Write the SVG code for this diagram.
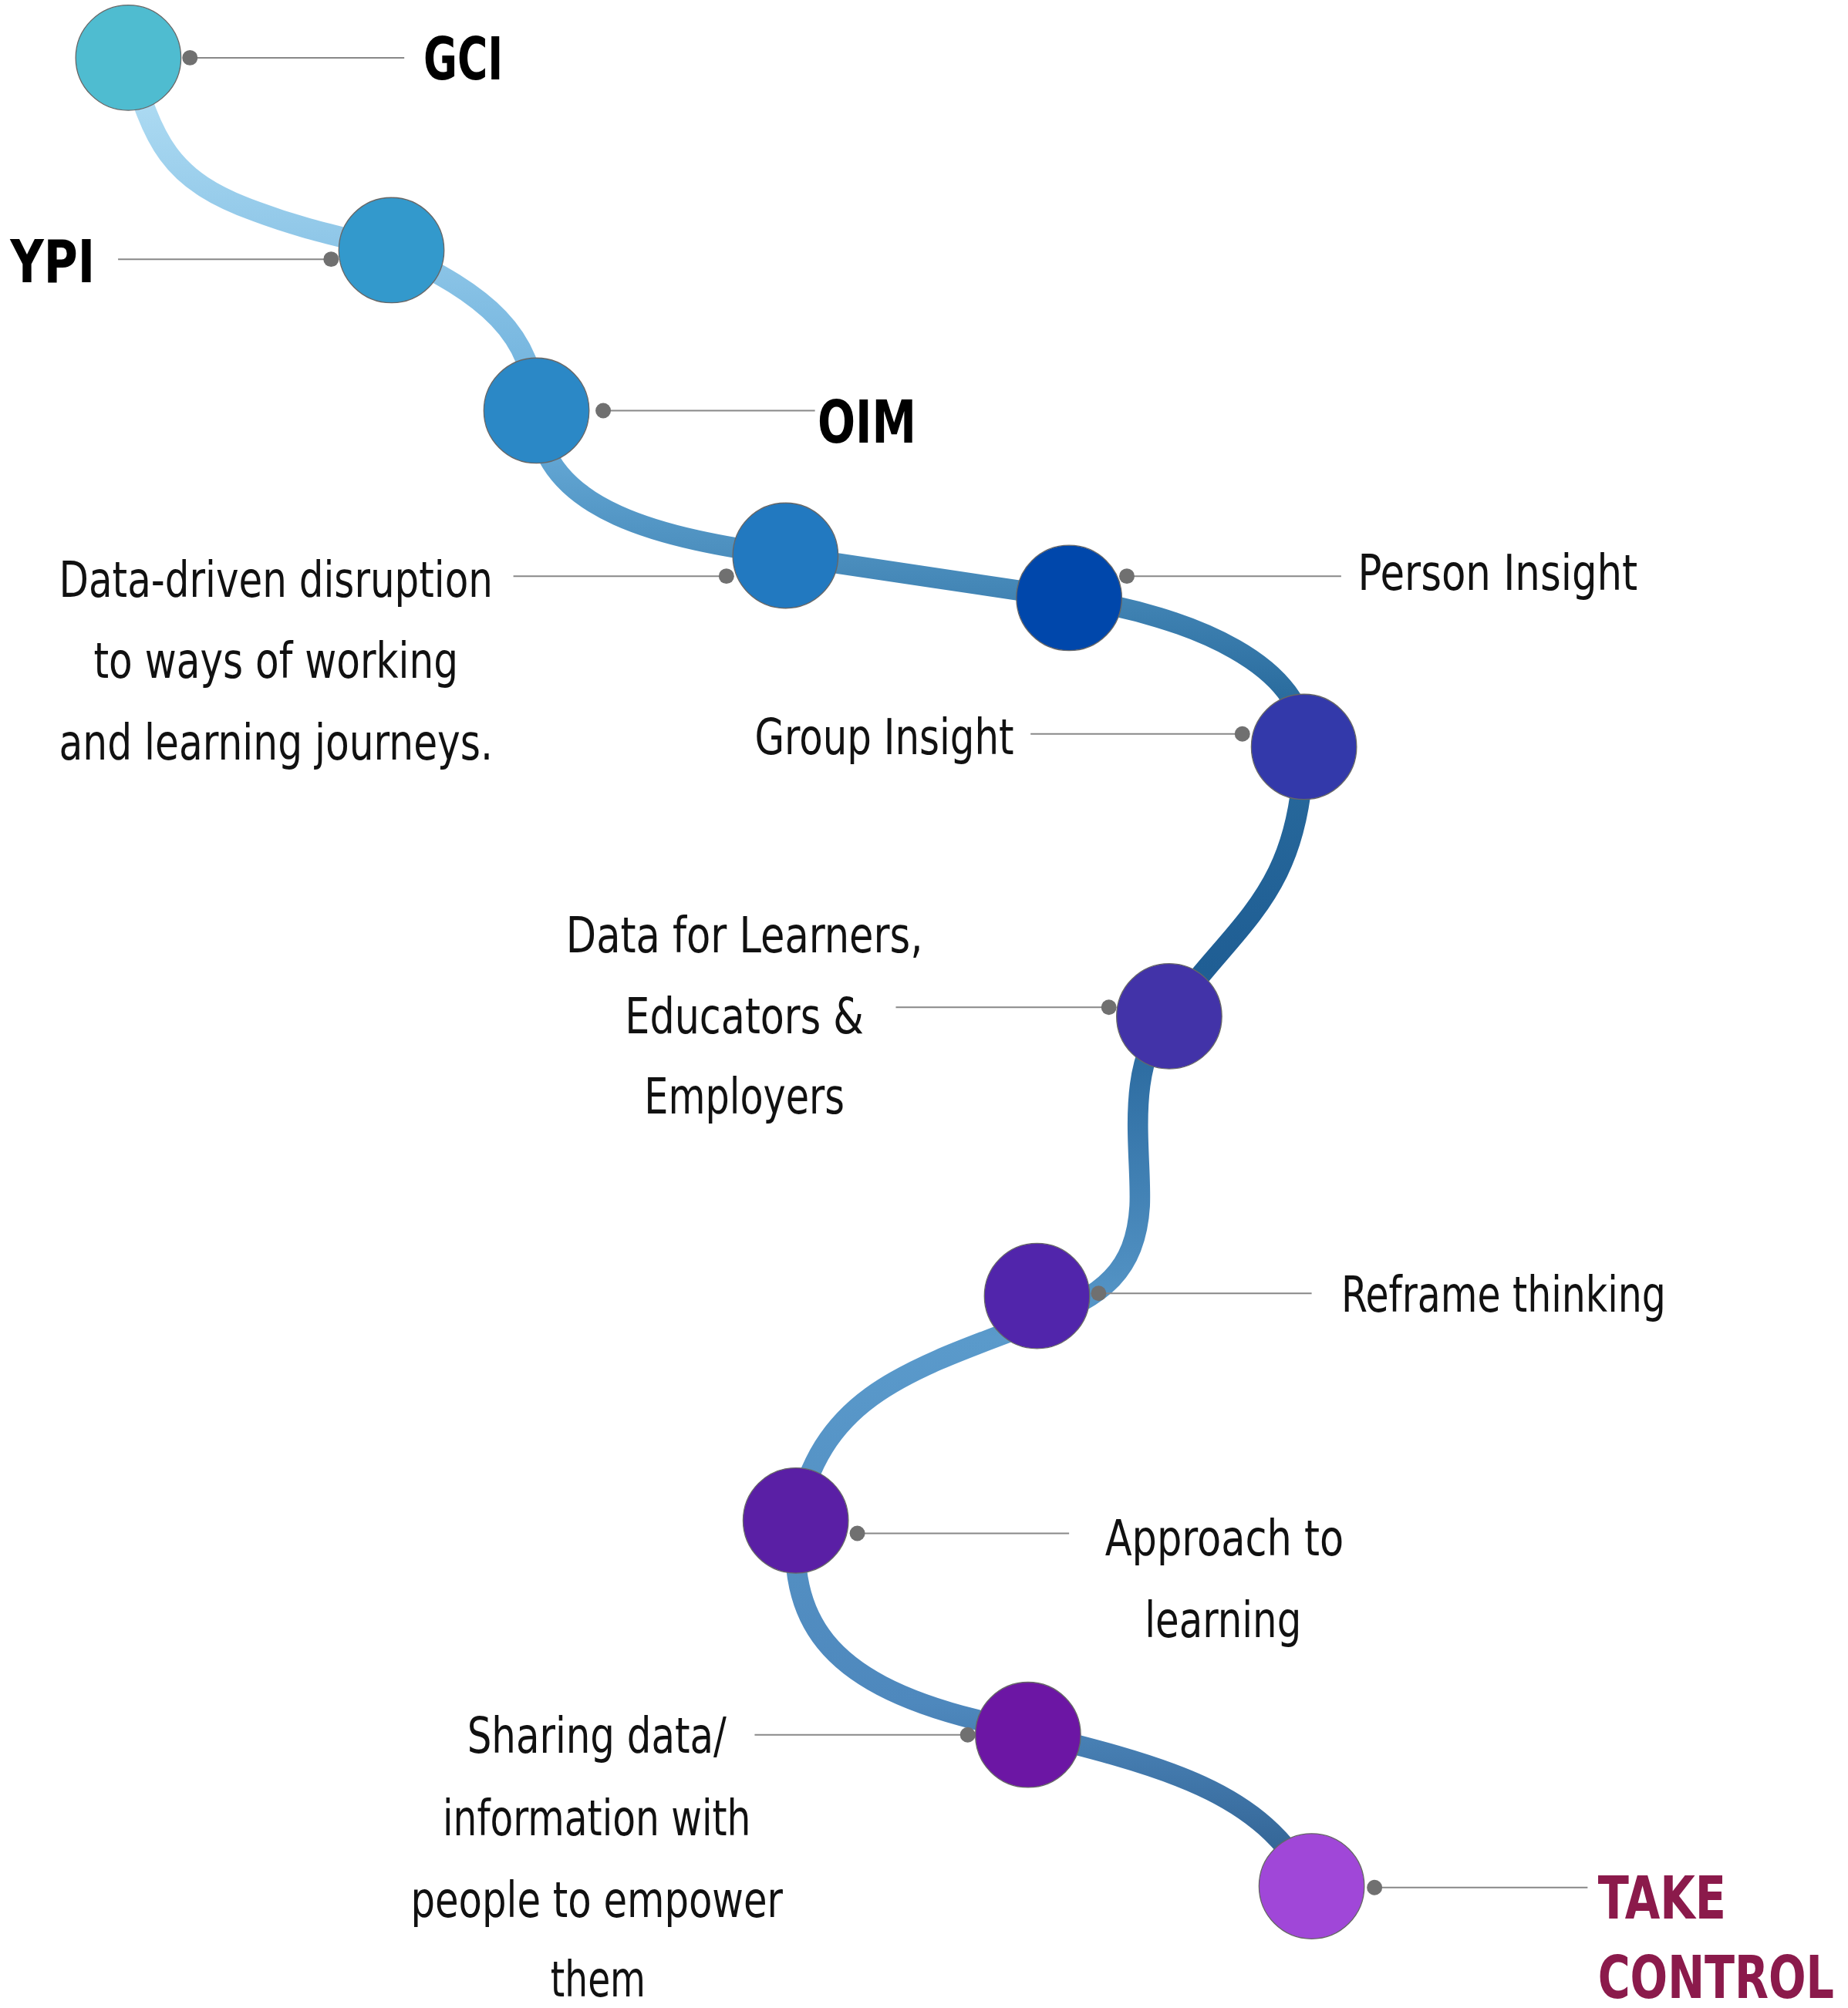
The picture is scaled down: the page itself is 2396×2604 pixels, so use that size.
<svg xmlns="http://www.w3.org/2000/svg" width="2396" height="2604" viewBox="0 0 2396 2604">
<style>
.n{stroke:#666;stroke-width:0.8}
.ld{stroke:#888;stroke-width:1.2;fill:none}
.dt{fill:#707070}
.t{font-family:"DejaVu Sans Condensed","Liberation Sans",sans-serif;font-stretch:condensed;font-size:38px;fill:#111}
.b{font-family:"DejaVu Sans Condensed","Liberation Sans",sans-serif;font-stretch:condensed;font-weight:bold;font-size:46px;fill:#000}
</style>
<defs>
<linearGradient id="g" gradientUnits="userSpaceOnUse" x1="0" y1="45" x2="0" y2="1470">
<stop offset="0" stop-color="#B5E0F5"/>
<stop offset="0.2" stop-color="#6AAEDB"/>
<stop offset="0.35" stop-color="#2A6C9E"/>
<stop offset="0.5" stop-color="#1F5E94"/>
<stop offset="0.7" stop-color="#5A9ACB"/>
<stop offset="0.9" stop-color="#4E88BD"/>
<stop offset="1" stop-color="#2E5E8E"/>
</linearGradient>
</defs>
<rect width="2396" height="2604" fill="#fff"/>
<g transform="scale(1.664)">
<g id="connectors">
<path d="M100,45 C120,110 130,140 200,165 C240,180 270,185 305,195 C380,230 415,260 418,320 C420,400 520,420 612,433 L833,466 C930,480 1020,520 1016,582 C1014,700 960,720 911,792 C875,830 890,900 888,940 C885,990 860,1010 808,1030 C700,1070 640,1090 620,1185 C615,1260 640,1310 760,1340 C900,1375 980,1390 1022,1470" fill="none" stroke="url(#g)" stroke-width="16" stroke-linecap="round"/>
<path class="ld" d="M148,45H315 M258,202H92 M470,320H635 M566,449H400 M878,449H1045 M968,572H803 M864,785H698 M856,1008H1022 M668,1195H833 M754,1352H588 M1071,1471H1237"/>
</g>
<g id="n1"><circle class="n" cx="100" cy="45" r="41" fill="#4FBCD0"/><circle class="dt" cx="148" cy="45" r="6"/><text class="b" x="330" y="62" textLength="62" lengthAdjust="spacingAndGlyphs">GCI</text></g>
<g id="n2"><circle class="n" cx="305" cy="195" r="41" fill="#3399CC"/><circle class="dt" cx="258" cy="202" r="6"/><text class="b" x="8" y="220" textLength="66" lengthAdjust="spacingAndGlyphs">YPI</text></g>
<g id="n3"><circle class="n" cx="418" cy="320" r="41" fill="#2B88C6"/><circle class="dt" cx="470" cy="320" r="6"/><text class="b" x="637" y="345" textLength="77" lengthAdjust="spacingAndGlyphs">OIM</text></g>
<g id="n4"><circle class="n" cx="612" cy="433" r="41" fill="#2279C0"/><circle class="dt" cx="566" cy="449" r="6"/>
<text class="t" x="46" y="465" textLength="338" lengthAdjust="spacingAndGlyphs">Data-driven disruption</text>
<text class="t" x="73" y="528" textLength="284" lengthAdjust="spacingAndGlyphs">to ways of working</text>
<text class="t" x="46" y="592" textLength="338" lengthAdjust="spacingAndGlyphs">and learning journeys.</text></g>
<g id="n5"><circle class="n" cx="833" cy="466" r="41" fill="#0047AB"/><circle class="dt" cx="878" cy="449" r="6"/><text class="t" x="1058" y="460" textLength="218" lengthAdjust="spacingAndGlyphs">Person Insight</text></g>
<g id="n6"><circle class="n" cx="1016" cy="582" r="41" fill="#3339AA"/><circle class="dt" cx="968" cy="572" r="6"/><text class="t" x="588" y="588" textLength="202" lengthAdjust="spacingAndGlyphs">Group Insight</text></g>
<g id="n7"><circle class="n" cx="911" cy="792" r="41" fill="#4233A8"/><circle class="dt" cx="864" cy="785" r="6"/>
<text class="t" x="441" y="742" textLength="278" lengthAdjust="spacingAndGlyphs">Data for Learners,</text>
<text class="t" x="487" y="805" textLength="186" lengthAdjust="spacingAndGlyphs">Educators &amp;</text>
<text class="t" x="502" y="868" textLength="156" lengthAdjust="spacingAndGlyphs">Employers</text></g>
<g id="n8"><circle class="n" cx="808" cy="1010" r="41" fill="#5125AB"/><circle class="dt" cx="856" cy="1008" r="6"/><text class="t" x="1045" y="1022" textLength="253" lengthAdjust="spacingAndGlyphs">Reframe thinking</text></g>
<g id="n9"><circle class="n" cx="620" cy="1185" r="41" fill="#5A1FA5"/><circle class="dt" cx="668" cy="1195" r="6"/>
<text class="t" x="861" y="1212" textLength="186" lengthAdjust="spacingAndGlyphs">Approach to</text>
<text class="t" x="892" y="1276" textLength="122" lengthAdjust="spacingAndGlyphs">learning</text></g>
<g id="n10"><circle class="n" cx="801" cy="1352" r="41" fill="#6C16A4"/><circle class="dt" cx="754" cy="1352" r="6"/>
<text class="t" x="364" y="1366" textLength="202" lengthAdjust="spacingAndGlyphs">Sharing data/</text>
<text class="t" x="345" y="1430" textLength="240" lengthAdjust="spacingAndGlyphs">information with</text>
<text class="t" x="320" y="1494" textLength="290" lengthAdjust="spacingAndGlyphs">people to empower</text>
<text class="t" x="429" y="1556" textLength="74" lengthAdjust="spacingAndGlyphs">them</text></g>
<g id="n11"><circle class="n" cx="1022" cy="1470" r="41" fill="#A047D8"/><circle class="dt" cx="1071" cy="1471" r="6"/>
<text class="b" x="1245" y="1495" textLength="100" lengthAdjust="spacingAndGlyphs" style="fill:#8B1A4B">TAKE</text>
<text class="b" x="1245" y="1557" textLength="184" lengthAdjust="spacingAndGlyphs" style="fill:#8B1A4B">CONTROL</text></g>
</g>
</svg>
